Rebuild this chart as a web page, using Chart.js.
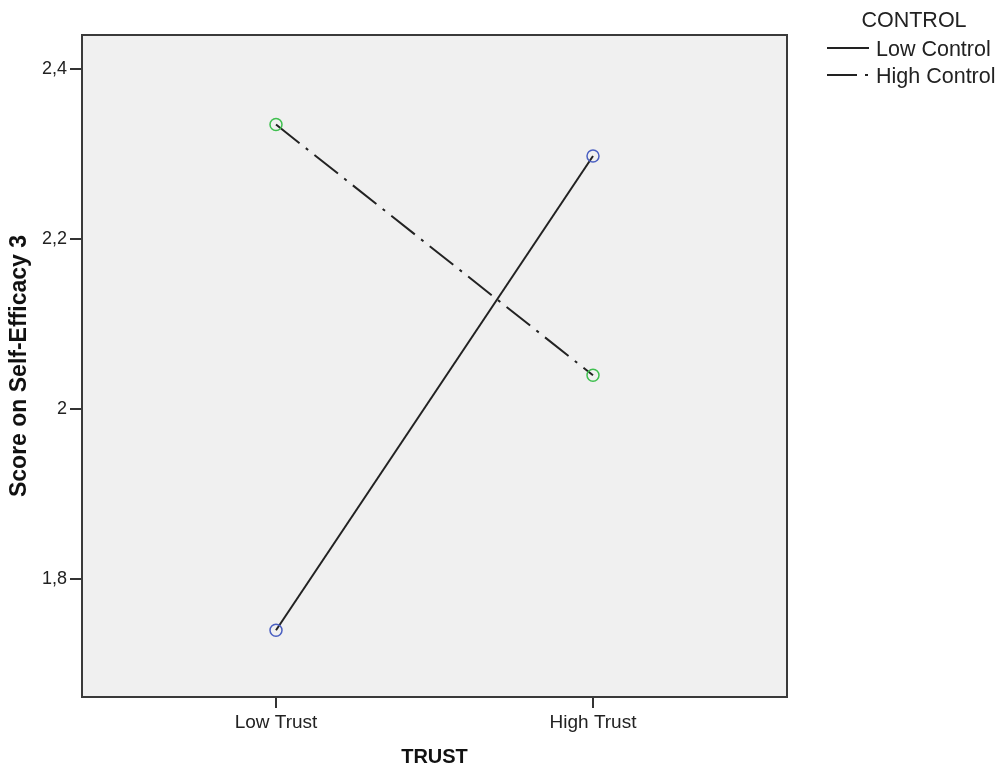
<!DOCTYPE html>
<html>
<head>
<meta charset="utf-8">
<script src="https://cdn.jsdelivr.net/npm/chart.js@4.4.1/dist/chart.umd.min.js"></script>
<style>
  html, body { margin: 0; padding: 0; background: #ffffff; }
  #wrap { width: 1000px; height: 767px; }
</style>
</head>
<body>
<div id="wrap"><canvas id="c" width="1000" height="767"></canvas></div>
<script>
// Estimated marginal means of Self-Efficacy 3 by trust and control level
const trustLevels = ['Low Trust', 'High Trust'];
const trustPositions = [1, 2];
const controlGroups = ['Low Control', 'High Control'];
const lowControlScores = [1.740, 2.298];
const highControlScores = [2.335, 2.040];
const scoreTicks = [1.8, 2.0, 2.2, 2.4];
const legendTitle = 'CONTROL';
const xAxisTitle = 'TRUST';
const yAxisTitle = 'Score on Self-Efficacy 3';

const FONT = "'Liberation Sans', Arial, sans-serif";
const dashDot = [30, 8, 3, 8];

function toPoints(values) {
  return values.map((v, i) => ({ x: trustPositions[i], y: v }));
}

// Grey plotting area and dark frame around it
const framePlugin = {
  id: 'frame',
  beforeDraw(chart) {
    const { ctx, chartArea: a } = chart;
    ctx.save();
    ctx.fillStyle = '#f0f0f0';
    ctx.fillRect(a.left, a.top, a.right - a.left, a.bottom - a.top);
    ctx.restore();
  },
  afterDraw(chart) {
    const { ctx, chartArea: a } = chart;
    ctx.save();
    ctx.strokeStyle = '#3a3a3a';
    ctx.lineWidth = 2;
    ctx.strokeRect(a.left, a.top, a.right - a.left, a.bottom - a.top);
    ctx.restore();
  }
};

// Legend to the right of the plot, with line samples in each dataset's dash style
const sideLegendPlugin = {
  id: 'sideLegend',
  afterDraw(chart) {
    const { ctx } = chart;
    ctx.save();
    ctx.fillStyle = '#222';
    ctx.font = '21.5px ' + FONT;
    ctx.textBaseline = 'middle';
    ctx.textAlign = 'center';
    ctx.fillText(legendTitle, 914, 21);
    ctx.textAlign = 'left';
    chart.data.datasets.forEach((ds, i) => {
      const y = 48 + i * 27;
      ctx.beginPath();
      ctx.setLineDash(ds.borderDash || []);
      ctx.strokeStyle = '#222';
      ctx.lineWidth = 2;
      ctx.moveTo(827, y);
      ctx.lineTo(869, y);
      ctx.stroke();
      ctx.setLineDash([]);
      ctx.fillText(ds.label, 876, y + 2);
    });
    ctx.restore();
  }
};

new Chart(document.getElementById('c'), {
  type: 'line',
  data: {
    datasets: [
      {
        label: controlGroups[0],
        data: toPoints(lowControlScores),
        borderColor: '#222',
        borderWidth: 2,
        pointRadius: 6,
        pointBorderWidth: 1.5,
        pointBorderColor: '#4a5fc1',
        pointBackgroundColor: 'rgba(0,0,0,0)',
        tension: 0
      },
      {
        label: controlGroups[1],
        data: toPoints(highControlScores),
        borderColor: '#222',
        borderWidth: 2,
        borderDash: dashDot,
        pointRadius: 6,
        pointBorderWidth: 1.5,
        pointBorderColor: '#3fbf4f',
        pointBackgroundColor: 'rgba(0,0,0,0)',
        tension: 0
      }
    ]
  },
  options: {
    responsive: false,
    animation: false,
    devicePixelRatio: 1,
    layout: { padding: { top: 35, right: 213, bottom: 0, left: 0 } },
    plugins: {
      legend: { display: false },
      tooltip: { enabled: false }
    },
    scales: {
      x: {
        type: 'linear',
        min: 0.388,
        max: 2.612,
        afterBuildTicks(scale) { scale.ticks = trustPositions.map(v => ({ value: v })); },
        afterFit(scale) { scale.height = 70; },
        border: { display: false },
        grid: { drawOnChartArea: false, tickLength: 11, color: '#333', lineWidth: 2 },
        ticks: {
          autoSkip: false,
          maxRotation: 0,
          padding: 3,
          color: '#222',
          font: { family: FONT, size: 19 },
          callback: v => trustLevels[trustPositions.indexOf(v)]
        },
        title: {
          display: true,
          text: xAxisTitle,
          color: '#111',
          font: { family: FONT, size: 20, weight: 'bold', lineHeight: 1 },
          padding: { top: 0, bottom: 0 }
        }
      },
      y: {
        type: 'linear',
        min: 1.6615,
        max: 2.4404,
        afterBuildTicks(scale) { scale.ticks = scoreTicks.map(v => ({ value: v })); },
        afterFit(scale) { scale.width = 82; },
        border: { display: false },
        grid: { drawOnChartArea: false, tickLength: 12, color: '#333', lineWidth: 2 },
        ticks: {
          autoSkip: false,
          padding: 3,
          color: '#222',
          font: { family: FONT, size: 18 },
          callback: v => String(Math.round(v * 10) / 10).replace('.', ',')
        },
        title: {
          display: true,
          text: yAxisTitle,
          color: '#111',
          font: { family: FONT, size: 23, weight: 'bold', lineHeight: 1.2 },
          padding: { top: 6, bottom: 0 }
        }
      }
    }
  },
  plugins: [framePlugin, sideLegendPlugin]
});
</script>
</body>
</html>
